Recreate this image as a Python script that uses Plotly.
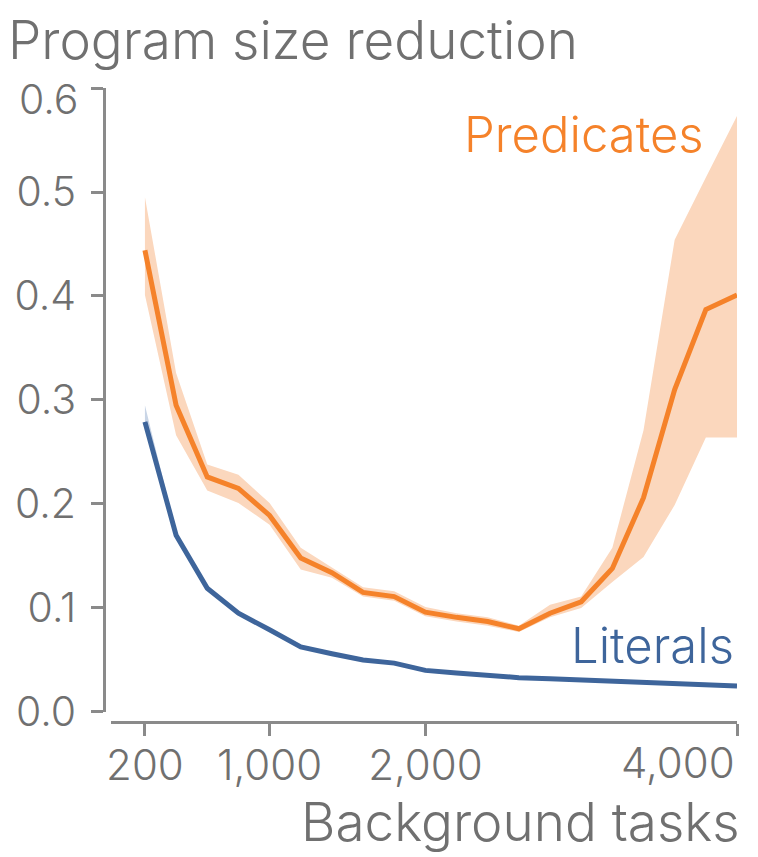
import plotly.graph_objects as go

tasks = [200, 400, 600, 800, 1000, 1200, 1400, 1600, 1800, 2000,
         2200, 2400, 2600, 2800, 3000, 3200, 3400, 3600, 3800, 4000]

pred_mean = [0.444, 0.295, 0.226, 0.215, 0.189, 0.148, 0.134, 0.115, 0.111, 0.096,
             0.091, 0.087, 0.080, 0.095, 0.106, 0.138, 0.206, 0.310, 0.387, 0.401]
pred_hi = [0.495, 0.326, 0.238, 0.228, 0.201, 0.158, 0.139, 0.120, 0.116, 0.101,
           0.095, 0.091, 0.083, 0.103, 0.111, 0.158, 0.271, 0.454, 0.514, 0.573]
pred_lo = [0.401, 0.266, 0.213, 0.201, 0.180, 0.137, 0.129, 0.111, 0.107, 0.092,
           0.087, 0.083, 0.077, 0.091, 0.100, 0.125, 0.149, 0.199, 0.264, 0.264]

lit_mean = [0.279, 0.170, 0.119, 0.095, 0.079, 0.0625, 0.056, 0.050, 0.047, 0.040,
            0.0375, 0.035, 0.033, 0.032, 0.031, 0.029, 0.028, 0.028, 0.027, 0.025]
lit_hi = [0.295, 0.173, 0.121, 0.097, 0.081, 0.064, 0.057, 0.051, 0.048, 0.041,
          0.038, 0.036, 0.034, 0.033, 0.032, 0.030, 0.029, 0.029, 0.028, 0.026]
lit_lo = [0.272, 0.167, 0.117, 0.093, 0.077, 0.061, 0.055, 0.049, 0.046, 0.039,
          0.037, 0.034, 0.032, 0.031, 0.030, 0.028, 0.027, 0.027, 0.026, 0.024]

x_ticks = [200, 1000, 2000, 4000]
# end labels are nudged inward in the reference, so they are placed separately
x_labels = ['200', '1,000', '2,000', '']
x_last = '4,000'
y_ticks = [0.0, 0.1, 0.2, 0.3, 0.4, 0.5, 0.6]
y_labels = ['0.0', '0.1', '0.2', '0.3', '0.4', '0.5', '']
y_last = '0.6'

orange = '#f5822a'
orange_band = '#fbd7bd'
blue = '#3e659b'
blue_band = '#c9d5e6'
grey = '#707070'
axis_grey = '#8a8a8a'
font = 'Inter'
wt = 300

fig = go.Figure()

# shaded bands
fig.add_trace(go.Scatter(x=tasks + tasks[::-1], y=pred_hi + pred_lo[::-1], fill='toself',
                         fillcolor=orange_band, line=dict(width=0), hoverinfo='skip'))
fig.add_trace(go.Scatter(x=tasks + tasks[::-1], y=lit_hi + lit_lo[::-1], fill='toself',
                         fillcolor=blue_band, line=dict(width=0), hoverinfo='skip'))

# mean lines
fig.add_trace(go.Scatter(x=tasks, y=pred_mean, mode='lines', line=dict(color=orange, width=5)))
fig.add_trace(go.Scatter(x=tasks, y=lit_mean, mode='lines', line=dict(color=blue, width=5)))

fig.add_annotation(x=3800, y=0.555, xref='x', yref='y', text='Predicates', showarrow=False,
                   xanchor='right', yanchor='middle',
                   font=dict(family=font, size=49, color=orange, weight=wt))
fig.add_annotation(x=3995, y=0.064, xref='x', yref='y', text='Literals', showarrow=False,
                   xanchor='right', yanchor='middle',
                   font=dict(family=font, size=49, color=blue, weight=wt))
fig.add_annotation(x=4000, y=-0.02, xref='x', yref='paper', text=x_last, showarrow=False,
                   xanchor='right', yanchor='top',
                   font=dict(family=font, size=42, color=grey, weight=wt))
fig.add_annotation(x=0, y=0.6, xref='paper', yref='y', text=y_last, showarrow=False,
                   xanchor='right', yanchor='middle', xshift=-24, yshift=-11,
                   font=dict(family=font, size=41, color=grey, weight=wt))
fig.add_annotation(x=1, y=-0.158, xref='paper', yref='paper', text='Background tasks', showarrow=False,
                   xanchor='right', yanchor='middle', xshift=5,
                   font=dict(family=font, size=53, color=grey, weight=wt))

# margins allow for the 8px page margin around the figure
fig.update_layout(
    width=758, height=857,
    margin=dict(l=96, r=29, t=80, b=143),
    paper_bgcolor='white', plot_bgcolor='white',
    showlegend=False,
    title=dict(text='Program size reduction', x=0.0, xref='container', xanchor='left',
               y=0.9625, yref='container', yanchor='middle',
               font=dict(family=font, size=53, color=grey, weight=wt)),
    font=dict(family=font, color=grey),
)

fig.update_xaxes(range=[-18, 4000], domain=[0.011, 1], anchor='free', position=0,
                 tickvals=x_ticks, ticktext=x_labels, showgrid=False, zeroline=False,
                 showline=True, linecolor=axis_grey, linewidth=2.5, automargin=False,
                 ticks='outside', ticklen=12, tickwidth=2.5, tickcolor=axis_grey,
                 ticklabelstandoff=-6,
                 tickfont=dict(family=font, size=42, color=grey, weight=wt))
fig.update_yaxes(range=[0, 0.6], domain=[0.0158, 1], anchor='free', position=0,
                 tickvals=y_ticks, ticktext=y_labels, showgrid=False, zeroline=False,
                 showline=True, linecolor=axis_grey, linewidth=2.5, automargin=False,
                 ticks='outside', ticklen=12, tickwidth=2.5, tickcolor=axis_grey,
                 ticklabelstandoff=7,
                 tickfont=dict(family=font, size=41, color=grey, weight=wt))

fig.write_html('out.html')
